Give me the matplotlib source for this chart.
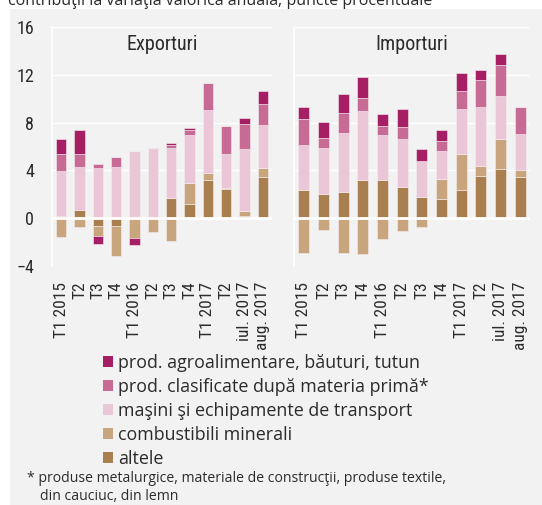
import numpy as np
import matplotlib.pyplot as plt
from matplotlib import font_manager
from matplotlib.patches import Patch, Rectangle

# categories and series (contributions, percentage points)
labels = ["T1 2015", "T2", "T3", "T4", "T1 2016", "T2", "T3", "T4",
          "T1 2017", "T2", "iul. 2017", "aug. 2017"]
series = ["prod. agroalimentare, băuturi, tutun",
          "prod. clasificate după materia primă*",
          "maşini şi echipamente de transport",
          "combustibili minerali",
          "altele"]
colors = ["#a61e63", "#c86b94", "#eac6d6", "#c9a57e", "#aa7f50"]

exp_altele = [0.15, 0.7, -0.65, -0.65, 0, 0, 1.65, 1.15, 3.15, 2.4, 0.2, 3.4]
exp_comb = [-1.6, -0.75, -0.9, -2.55, -1.7, -1.15, -1.9, 1.8, 0.6, 0.1, 0.4, 0.8]
exp_masini = [3.8, 3.6, 4.2, 4.25, 5.65, 5.75, 4.2, 4.0, 5.3, 2.9, 5.2, 3.6]
exp_clasif = [1.4, 1.05, 0.35, 0.85, 0, 0.15, 0.3, 0.4, 2.25, 2.35, 2.1, 1.75]
exp_agro = [1.25, 2.05, -0.6, 0.05, -0.55, 0, 0.15, 0.2, 0, 0, 0.5, 1.1]

imp_altele = [2.35, 2.05, 2.15, 3.15, 3.2, 2.6, 1.8, 1.55, 2.35, 3.55, 4.15, 3.4]
imp_comb = [-2.95, -1.0, -2.95, -3.0, -1.8, -1.1, -0.8, 1.75, 3.0, 0.8, 2.45, 0.6]
imp_masini = [3.75, 3.8, 5.0, 5.8, 3.8, 4.0, 3.0, 2.3, 3.8, 5.0, 3.6, 3.05]
imp_clasif = [2.25, 0.85, 1.65, 1.1, 0.7, 1.05, 0, 0.85, 1.55, 2.2, 2.65, 2.3]
imp_agro = [1.0, 1.35, 1.6, 1.75, 1.05, 1.5, 1.0, 0.9, 1.45, 0.85, 0.95, 0]

names = {f.name for f in font_manager.fontManager.ttflist}
narrow = next((n for n in ["Liberation Sans Narrow", "Roboto Condensed"] if n in names), "DejaVu Sans")
body = ["Open Sans", "DejaVu Sans"]
txt = "#2b2b2b"

W, H = 542, 505
fig = plt.figure(figsize=(W / 100, H / 100), dpi=100)
fig.patches.append(Rectangle((10 / W, 0), 1, (H - 9) / H, transform=fig.transFigure,
                             facecolor="#f2f2f2", edgecolor="none", zorder=-5))


def panel(rect, title, stacks, show_y):
    ax = fig.add_axes(rect)
    ax.set_facecolor("none")
    x = np.arange(len(labels))
    pos = np.zeros(len(labels))
    neg = np.zeros(len(labels))
    # stack from zero outward: altele, combustibili, masini, clasificate, agro
    for vals, col in zip(stacks, colors[::-1]):
        v = np.array(vals, dtype=float)
        b = np.where(v >= 0, pos, neg)
        ax.bar(x, v, bottom=b, width=0.55, color=col, edgecolor="#f4eef1",
               linewidth=0.4, zorder=2)
        pos += np.clip(v, 0, None)
        neg += np.clip(v, None, 0)
    ax.set_xlim(-0.5, 11.5)
    ax.set_ylim(-4.06, 16.06)
    ax.set_yticks([-4, 0, 4, 8, 12, 16])
    ax.grid(axis="y", color="white", linewidth=1.0, zorder=0)
    ax.set_axisbelow(True)
    ax.axhline(0, color="white", linewidth=2.0, zorder=3)
    for s in ["top", "right", "bottom"]:
        ax.spines[s].set_visible(False)
    ax.spines["left"].set_color("white")
    ax.spines["left"].set_linewidth(1.2)
    ax.set_xticks(x, labels, rotation=90, fontsize=12.5, family=narrow, color=txt)
    ax.tick_params(axis="x", length=0, pad=11)
    ax.tick_params(axis="y", length=0, pad=13, labelsize=13, labelcolor=txt)
    for t in ax.get_yticklabels():
        t.set_family(narrow)
    if not show_y:
        ax.set_yticklabels([])
    ax.text(0.5, 0.924, title, transform=ax.transAxes, ha="center", va="center",
            fontsize=14.5, family=narrow, color=txt)
    return ax


bottom = 1 - 266.3 / H
height = (266.3 - 26.7) / H
panel([52 / W, bottom, 220 / W, height], "Exporturi",
      [exp_altele, exp_comb, exp_masini, exp_clasif, exp_agro], True)
panel([294 / W, bottom, 236 / W, height], "Importuri",
      [imp_altele, imp_comb, imp_masini, imp_clasif, imp_agro], False)

handles = [Patch(facecolor=c, edgecolor="none") for c in colors]
fig.legend(handles, series, loc="upper left", bbox_to_anchor=(103 / W, 1 - 354 / H),
           frameon=False, borderpad=0, borderaxespad=0, handlelength=0.55,
           handleheight=0.55, handletextpad=0.3, labelspacing=0.33,
           prop={"family": body, "size": 12.9}, labelcolor=txt)

fig.text(8 / W, 1 - 5 / H, "contribuţii la variaţia valorică anuală; puncte procentuale",
         va="baseline", ha="left", fontsize=11.5, family=body, color=txt)
fig.text(27 / W, 1 - 479 / H, "* produse metalurgice, materiale de construcţii, produse textile,",
         va="center", ha="left", fontsize=10.1, family=body, color=txt)
fig.text(40 / W, 1 - 496 / H, "din cauciuc, din lemn",
         va="center", ha="left", fontsize=10.1, family=body, color=txt)

fig.savefig("out.png", dpi=100)
